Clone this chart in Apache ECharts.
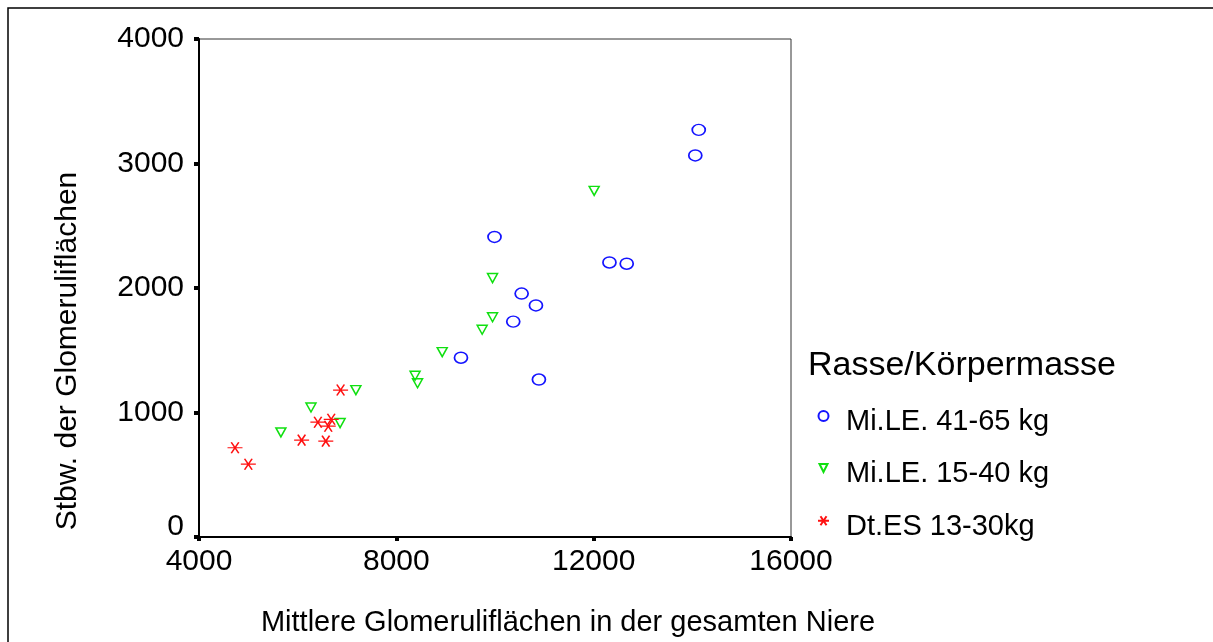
<!DOCTYPE html>
<html>
<head>
<meta charset="utf-8">
<script src="https://cdn.jsdelivr.net/npm/echarts@6/dist/echarts.min.js"></script>
<style>
  html, body { margin: 0; padding: 0; background: #fff; }
  #chart { width: 1213px; height: 642px; }
</style>
</head>
<body>
<div id="chart"></div>
<script>
// Mittlere Glomeruliflächen (x) vs. Stbw. der Glomeruliflächen (y)
const seriesNames = ['Mi.LE. 41-65 kg', 'Mi.LE. 15-40 kg', 'Dt.ES 13-30kg'];

const bigX = [14130, 14060, 9990, 12320, 12670, 10540, 10830, 10370, 9310, 10890];
const bigY = [3270, 3065, 2410, 2205, 2195, 1955, 1860, 1730, 1440, 1265];

const smallX = [5660, 6270, 6860, 7180, 8380, 8430, 8930, 9740, 9950, 9950, 12010];
const smallY = [840, 1040, 915, 1180, 1295, 1235, 1485, 1665, 1765, 2080, 2780];

const esX = [4730, 5000, 6080, 6570, 6410, 6680, 6620, 6870];
const esY = [717, 585, 778, 770, 922, 945, 890, 1180];

const xTicks = { min: 4000, max: 16000, interval: 4000 };
const yTicks = { min: 0, max: 4000, interval: 1000 };

const FONT = '"Liberation Sans", Arial, sans-serif';

// plot symbols
const triDown = 'path://M0,0L10,0L5,9Z';
const asterisk = 'path://M0,5L16,5M4,0L12,10M12,0L4,10';
// legend icons: glyph in the upper part of an 11x21 box so the text sits a bit lower
const legCircle = 'path://M0.5,5A5,5,0,1,1,10.5,5A5,5,0,1,1,0.5,5ZM0,21M11,21';
const legTri = 'path://M1.5,1L9.5,1L5.5,9ZM0,21M11,21';
const legStar = 'path://M0,5L11,5M2.5,0.5L8.5,9.5M8.5,0.5L2.5,9.5M0,21M11,21';

function pairs(xs, ys) {
  return xs.map((x, i) => [x, ys[i]]);
}

const chart = echarts.init(document.getElementById('chart'), null, { renderer: 'canvas' });

chart.setOption({
  animation: false,
  backgroundColor: '#fff',
  textStyle: { fontFamily: FONT },
  graphic: [{
    type: 'rect',
    shape: { x: 8, y: 8, width: 1400, height: 800 },
    style: { fill: 'none', stroke: '#000', lineWidth: 1.5 }
  }],
  title: {
    text: 'Rasse/Körpermasse',
    left: 808,
    top: 349,
    padding: 0,
    textStyle: { fontFamily: FONT, fontSize: 34, fontWeight: 'normal', color: '#000' }
  },
  legend: {
    orient: 'vertical',
    left: 817,
    top: 407,
    padding: 0,
    itemWidth: 11,
    itemHeight: 21,
    itemGap: 23.5,
    data: [
      { name: seriesNames[0], icon: legCircle },
      { name: seriesNames[1], icon: legTri },
      { name: seriesNames[2], icon: legStar }
    ],
    textStyle: { fontFamily: FONT, fontSize: 29, color: '#000', padding: [0, 0, 0, 12] }
  },
  grid: {
    left: 199,
    right: 422,
    top: 39,
    bottom: 105,
    outerBoundsMode: 'none',
    containLabel: false,
    show: true,
    borderColor: '#333',
    borderWidth: 1
  },
  xAxis: {
    type: 'value',
    min: xTicks.min,
    max: xTicks.max,
    interval: xTicks.interval,
    name: 'Mittlere Glomeruliflächen in der gesamten Niere',
    nameLocation: 'middle',
    nameGap: 71,
    nameTextStyle: { fontFamily: FONT, fontSize: 29, color: '#000', padding: [0, 0, 0, 146] },
    splitLine: { show: false },
    axisLine: { show: true, lineStyle: { color: '#000', width: 2 } },
    axisTick: { show: true, inside: false, length: 4, lineStyle: { color: '#000', width: 4 } },
    axisLabel: { fontFamily: FONT, fontSize: 30, color: '#000', margin: 10, formatter: v => String(v) }
  },
  yAxis: {
    type: 'value',
    min: yTicks.min,
    max: yTicks.max,
    interval: yTicks.interval,
    name: 'Stbw. der Glomeruliflächen',
    nameLocation: 'middle',
    nameRotate: 90,
    nameGap: 116,
    nameTextStyle: { fontFamily: FONT, fontSize: 30, color: '#000', padding: [0, 126, 0, 0] },
    splitLine: { show: false },
    axisLine: { show: true, lineStyle: { color: '#000', width: 2 } },
    axisTick: { show: true, inside: false, length: 5, lineStyle: { color: '#000', width: 4 } },
    axisLabel: {
      fontFamily: FONT, fontSize: 30, color: '#000', margin: 15, lineHeight: 20,
      verticalAlignMinLabel: 'bottom',
      formatter: v => String(v)
    }
  },
  series: [
    {
      name: seriesNames[0],
      type: 'scatter',
      symbol: 'circle',
      symbolSize: [13, 11],
      itemStyle: { color: 'rgba(0,0,0,0)', borderColor: '#1414ff', borderWidth: 1.6, opacity: 1 },
      data: pairs(bigX, bigY)
    },
    {
      name: seriesNames[1],
      type: 'scatter',
      symbol: triDown,
      symbolSize: [10, 9],
      itemStyle: { color: 'rgba(0,0,0,0)', borderColor: '#10e010', borderWidth: 1.5, opacity: 1 },
      data: pairs(smallX, smallY)
    },
    {
      name: seriesNames[2],
      type: 'scatter',
      symbol: asterisk,
      symbolSize: [15, 11],
      itemStyle: { color: 'rgba(0,0,0,0)', borderColor: '#ff1010', borderWidth: 1.4, opacity: 1 },
      data: pairs(esX, esY)
    }
  ]
});
</script>
</body>
</html>
